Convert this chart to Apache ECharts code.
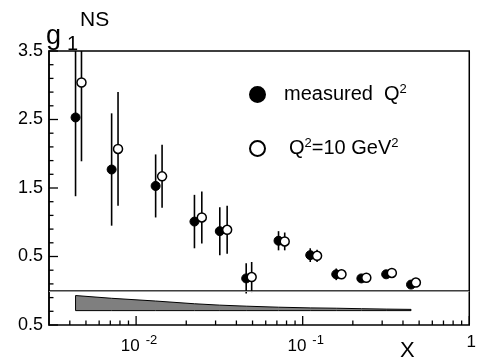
<!DOCTYPE html>
<html>
<head>
<meta charset="utf-8">
<script src="https://cdn.jsdelivr.net/npm/echarts@6/dist/echarts.min.js"></script>
<style>
  html, body { margin: 0; padding: 0; background: #fff; }
  #chart { width: 479px; height: 358px; }
</style>
</head>
<body>
<div id="chart"></div>
<script>
// g1 non-singlet at the measured Q^2
const xMeas = [0.00433, 0.00713, 0.0131, 0.0224, 0.0318, 0.0458, 0.0716, 0.111, 0.159, 0.225, 0.317, 0.447]
const g1Meas = [2.53, 1.77, 1.53, 1.01, 0.87, 0.18, 0.73, 0.52, 0.24, 0.18, 0.24, 0.09]
const errMeas = [1.15, 0.82, 0.46, 0.39, 0.35, 0.22, 0.14, 0.10, 0.085, 0.04, 0.04, 0.03]

// same points evolved to Q^2 = 10 GeV^2
const xQ10 = [0.0047, 0.00779, 0.01432, 0.0248, 0.0352, 0.0494, 0.078, 0.122, 0.171, 0.241, 0.343, 0.478]
const g1Q10 = [3.04, 2.07, 1.67, 1.07, 0.89, 0.20, 0.72, 0.51, 0.24, 0.19, 0.26, 0.12]
const errQ10 = [1.15, 0.83, 0.46, 0.38, 0.35, 0.22, 0.13, 0.09, 0.07, 0.04, 0.04, 0.03]

// systematic error band (drawn between bandTop and bandBottom)
const bandX = [0.00433, 0.00713, 0.0131, 0.0224, 0.0318, 0.0458, 0.0716, 0.111, 0.159, 0.225, 0.317, 0.447]
const bandTop = [-0.07, -0.11, -0.15, -0.19, -0.21, -0.225, -0.24, -0.25, -0.255, -0.262, -0.268, -0.272]
const bandBottom = -0.29

// axes
const X_MIN = 0.003
const X_MAX = 1
const Y_MIN = -0.5
const Y_MAX = 3.5
const xMajor = [0.01, 0.1, 1]
const xMajorLabels = ['10|-2', '10|-1', '1']
const xMinor = [0.004, 0.005, 0.006, 0.007, 0.008, 0.009, 0.02, 0.03, 0.04, 0.05, 0.06, 0.07, 0.08, 0.09,
  0.2, 0.3, 0.4, 0.5, 0.6, 0.7, 0.8, 0.9]
const yMajor = [-0.5, 0.5, 1.5, 2.5, 3.5]
const yMajorLabels = ['0.5', '0.5', '1.5', '2.5', '3.5']
const yMinor = [-0.3, -0.1, 0.1, 0.3, 0.7, 0.9, 1.1, 1.3, 1.7, 1.9, 2.1, 2.3, 2.7, 2.9, 3.1, 3.3]

const FONT = 'Liberation Sans'

const chart = echarts.init(document.getElementById('chart'))

function errorBars(xs, ys, es) {
  return {
    type: 'custom',
    clip: true,
    silent: true,
    z: 2,
    data: xs.map((x, i) => [x, ys[i] - es[i], ys[i] + es[i]]),
    encode: { x: 0, y: [1, 2] },
    renderItem: (params, api) => {
      const lo = api.coord([api.value(0), api.value(1)])
      const hi = api.coord([api.value(0), api.value(2)])
      return {
        type: 'line',
        shape: { x1: lo[0], y1: lo[1], x2: hi[0], y2: hi[1] },
        style: { stroke: '#000', lineWidth: 1.6 }
      }
    }
  }
}

// inward ticks: x ticks up from the bottom edge, y ticks right from the left edge
function xTicks(values, len) {
  return {
    type: 'custom',
    silent: true,
    z: 5,
    data: values.map((v) => [v, Y_MIN]),
    encode: { x: 0, y: 1 },
    renderItem: (params, api) => {
      const p = api.coord([api.value(0), Y_MIN])
      return {
        type: 'line',
        shape: { x1: p[0], y1: p[1], x2: p[0], y2: p[1] - len },
        style: { stroke: '#000', lineWidth: 1.3 }
      }
    }
  }
}
function yTicks(values, len) {
  return {
    type: 'custom',
    silent: true,
    z: 5,
    data: values.map((v) => [X_MIN, v]),
    encode: { x: 0, y: 1 },
    renderItem: (params, api) => {
      const p = api.coord([X_MIN, api.value(1)])
      return {
        type: 'line',
        shape: { x1: p[0], y1: p[1], x2: p[0] + len, y2: p[1] },
        style: { stroke: '#000', lineWidth: 1.3 }
      }
    }
  }
}

const option = {
  animation: false,
  grid: {
    left: 49, right: 5, top: 51, bottom: 33,
    show: true, borderColor: '#000', borderWidth: 1.5,
    containLabel: false
  },
  xAxis: {
    type: 'log',
    logBase: 10,
    min: X_MIN,
    max: X_MAX,
    splitLine: { show: false },
    minorTick: { show: false },
    axisLine: { show: true, lineStyle: { color: '#000', width: 1.5 } },
    axisTick: { show: false },
    axisLabel: {
      show: true,
      customValues: xMajor,
      margin: 9,
      color: '#000',
      fontFamily: FONT,
      fontSize: 17,
      formatter: (v) => {
        const i = xMajor.findIndex((m) => Math.abs(m - v) / m < 1e-6)
        if (i < 0) return ''
        const [b, s] = xMajorLabels[i].split('|')
        return s ? '{b|' + b + '}{s|' + s + '}' : '{c|' + b + '}'
      },
      rich: {
        b: { fontSize: 17, fontFamily: FONT, color: '#000', padding: [0, 0, 0, 6] },
        c: { fontSize: 17, fontFamily: FONT, color: '#000', padding: [0, 0, 0, 4] },
        s: { fontSize: 13, fontFamily: FONT, color: '#000', padding: [0, 0, 12, 6] }
      }
    }
  },
  yAxis: {
    type: 'value',
    min: Y_MIN,
    max: Y_MAX,
    splitLine: { show: false },
    axisLine: { show: true, lineStyle: { color: '#000', width: 1.5 } },
    axisTick: { show: false },
    axisLabel: {
      show: true,
      customValues: yMajor,
      margin: 6,
      color: '#000',
      fontFamily: FONT,
      fontSize: 18,
      formatter: (v) => {
        const i = yMajor.findIndex((m) => Math.abs(m - v) < 1e-6)
        return i < 0 ? '' : yMajorLabels[i]
      }
    }
  },
  legend: [
    {
      data: ['measured'],
      left: 244, top: 78,
      icon: 'circle',
      itemWidth: 15, itemHeight: 15,
      selectedMode: false,
      formatter: () => 'measured  Q{sup|2}',
      textStyle: {
        fontFamily: FONT, fontSize: 20, color: '#000', padding: [0, 0, 0, 14],
        rich: { sup: { fontFamily: FONT, fontSize: 13, color: '#000', padding: [0, 0, 10, 0] } }
      }
    },
    {
      data: ['Q10'],
      left: 244, top: 132,
      icon: 'circle',
      itemWidth: 15, itemHeight: 15,
      selectedMode: false,
      formatter: () => 'Q{sup|2}=10 GeV{sup|2}',
      textStyle: {
        fontFamily: FONT, fontSize: 20, color: '#000', padding: [0, 0, 0, 19],
        rich: { sup: { fontFamily: FONT, fontSize: 13, color: '#000', padding: [0, 0, 10, 0] } }
      }
    }
  ],
  graphic: [
    { type: 'text', left: 46, top: 23, style: { text: 'g', font: '27px "Liberation Sans"', fill: '#000' } },
    { type: 'text', left: 67, top: 34, style: { text: '1', font: '20px "Liberation Sans"', fill: '#000' } },
    { type: 'text', left: 80, top: 10, style: { text: 'NS', font: '21px "Liberation Sans"', fill: '#000' } },
    { type: 'text', left: 400, top: 340, style: { text: 'X', font: '22px "Liberation Sans"', fill: '#000' } }
  ],
  series: [
    {
      // systematic band
      type: 'custom',
      silent: true,
      z: 1,
      data: bandX.map((x, i) => [x, bandTop[i]]),
      renderItem: (params, api) => {
        if (params.dataIndex !== 0) return null
        const top = bandX.map((x, i) => api.coord([x, bandTop[i]]))
        const bottom = bandX.slice().reverse().map((x) => api.coord([x, bandBottom]))
        return {
          type: 'polygon',
          shape: { points: top.concat(bottom) },
          style: { fill: '#7f7f7f', stroke: '#000', lineWidth: 1 }
        }
      }
    },
    {
      // zero line
      type: 'line',
      data: [],
      silent: true,
      markLine: {
        silent: true,
        symbol: 'none',
        label: { show: false },
        lineStyle: { color: '#999', width: 1.2, type: 'solid' },
        data: [{ yAxis: 0 }]
      }
    },
    xTicks(xMajor, 9),
    xTicks(xMinor, 4.5),
    yTicks(yMajor, 9),
    yTicks(yMinor, 4.5),
    errorBars(xMeas, g1Meas, errMeas),
    errorBars(xQ10, g1Q10, errQ10),
    {
      name: 'measured',
      type: 'scatter',
      z: 3,
      symbol: 'circle',
      symbolSize: 9,
      itemStyle: { color: '#000', borderColor: '#000', borderWidth: 1, opacity: 1 },
      data: xMeas.map((x, i) => [x, g1Meas[i]])
    },
    {
      name: 'Q10',
      type: 'scatter',
      z: 4,
      symbol: 'circle',
      symbolSize: 9,
      itemStyle: { color: '#fff', borderColor: '#000', borderWidth: 1.5, opacity: 1 },
      data: xQ10.map((x, i) => [x, g1Q10[i]])
    }
  ]
}

chart.setOption(option)
</script>
</body>
</html>
